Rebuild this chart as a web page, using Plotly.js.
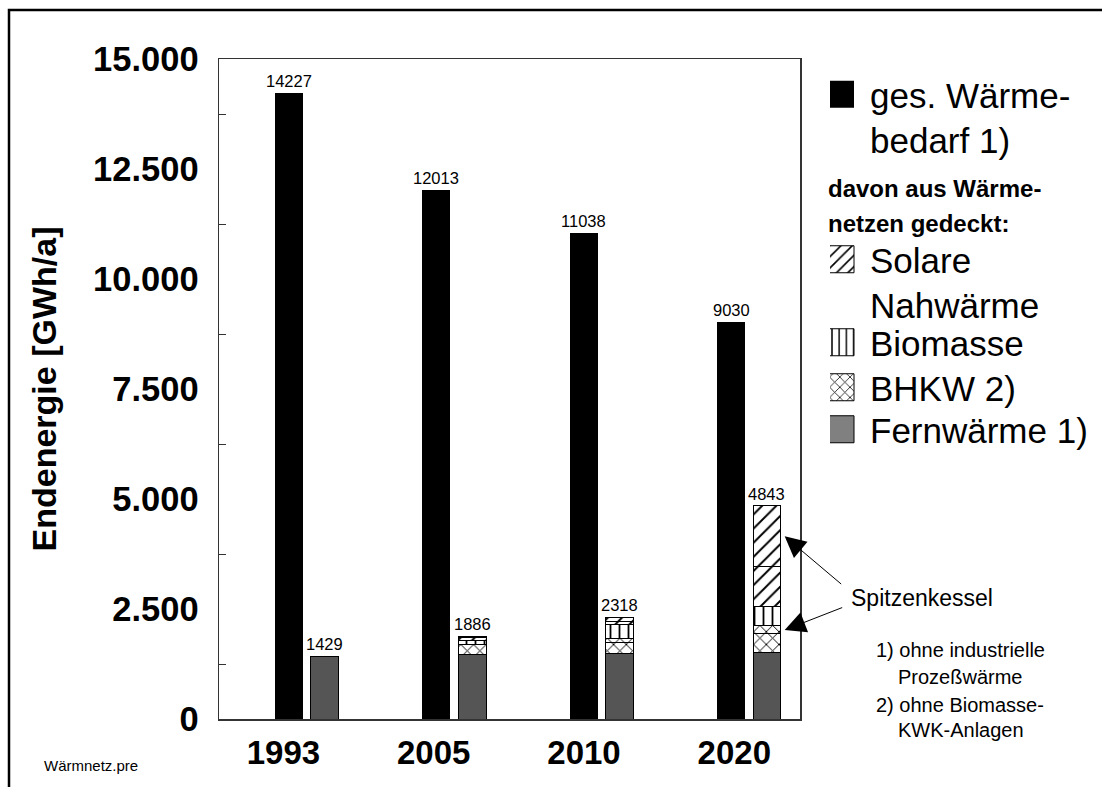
<!DOCTYPE html>
<html><head><meta charset="utf-8">
<script src="https://cdn.plot.ly/plotly-3.0.1.min.js"></script>
<style>body{margin:0;background:#fff}</style>
</head><body><div id="chart" style="width:1102px;height:787px"></div>
<script>
// ---- data ----
const years = ['1993', '2005', '2010', '2020'];
const gesWaermebedarf = [14227, 12013, 11038, 9030];
const fernwaerme = [1429, 1455, 1490, 1507];
const bhkw = [0, 227, 250, 425];
const bhkwSpitzenkessel = [0, 0, 100, 182];
const biomasse = [0, 113, 300, 439];
const solar = [0, 53, 80, 908];
const solarSpitzenkessel = [0, 38, 98, 1382];
const waermenetzGesamt = [1429, 1886, 2318, 4843];
const yTickValues = [0, 2500, 5000, 7500, 10000, 12500, 15000];
const yTickLabels = ['0', '2.500', '5.000', '7.500', '10.000', '12.500', '15.000'];

// ---- layout helpers ----
const FONT = '"Liberation Sans", Arial, Helvetica, sans-serif';
const OFF = 0.122, W = 0.19;
const idx = years.map((_, i) => i);
const xBlack = idx.map(i => i - OFF);
const xNet = idx.map(i => i + OFF);
const L = 219, R = 800, T = 59, B = 719;
const px = x => (x - L) / (R - L);
const py = y => (B - y) / (B - T);
const outline = {color: '#000', width: 1};

function hatched(name, vals, shape, size, legend, showlegend) {
  return {
    type: 'bar', name: name, x: xNet, y: vals, width: W,
    legend: legend, showlegend: showlegend, hoverinfo: 'skip',
    marker: {color: '#fff', line: outline,
      pattern: {shape: shape, size: size, solidity: 0.2, fgcolor: '#000', bgcolor: '#fff', fillmode: 'replace'}}
  };
}

const traces = [
  {type: 'bar', name: 'ges. Wärme-<br>bedarf 1)', x: xBlack, y: gesWaermebedarf, width: W,
   legend: 'legend', marker: {color: '#000', line: {color: '#000', width: 0}}, hoverinfo: 'skip'},
  {type: 'bar', name: 'Fernwärme 1)', x: xNet, y: fernwaerme, width: W, legend: 'legend5',
   marker: {color: '#555555', line: outline}, hoverinfo: 'skip'},
  hatched('BHKW 2)', bhkw, 'x', 9, 'legend4', true),
  hatched('BHKW Spitzenkessel', bhkwSpitzenkessel, 'x', 9, 'legend4', false),
  hatched('Biomasse', biomasse, '|', 9, 'legend3', true),
  hatched('Solare<br>Nahwärme', solar, '/', 10, 'legend2', true),
  hatched('Solar Spitzenkessel', solarSpitzenkessel, '/', 10, 'legend2', false)
];

const minorTicks = [];
for (let v = 1250; v < 15000; v += 2500) minorTicks.push(v);

const annotations = [];
idx.forEach(i => {
  annotations.push({x: xBlack[i], y: gesWaermebedarf[i], xref: 'x', yref: 'y', text: String(gesWaermebedarf[i]),
    showarrow: false, yanchor: 'bottom', yshift: 1, font: {size: 16.5}});
  annotations.push({x: xNet[i], y: waermenetzGesamt[i], xref: 'x', yref: 'y', text: String(waermenetzGesamt[i]),
    showarrow: false, yanchor: 'bottom', yshift: 1, font: {size: 16.5}});
});
// Spitzenkessel arrows
const last = years.length - 1;
const tipX = xNet[last] + W / 2 + 0.025;
const solarTop = fernwaerme[last] + bhkw[last] + bhkwSpitzenkessel[last] + biomasse[last] + solar[last];
const bhkwTop = fernwaerme[last] + bhkw[last];
annotations.push({x: tipX, y: solarTop + solarSpitzenkessel[last] / 2, xref: 'x', yref: 'y', text: '',
  showarrow: true, ax: 58, ay: 49, arrowhead: 2, arrowsize: 4.2, arrowwidth: 1, arrowcolor: '#000', standoff: 0});
annotations.push({x: tipX, y: bhkwTop + bhkwSpitzenkessel[last] / 2, xref: 'x', yref: 'y', text: '',
  showarrow: true, ax: 59, ay: -23, arrowhead: 2, arrowsize: 4.2, arrowwidth: 1, arrowcolor: '#000', standoff: 0});
annotations.push({x: px(849), y: py(598), xref: 'paper', yref: 'paper', text: 'Spitzenkessel',
  showarrow: false, xanchor: 'left', yanchor: 'middle', font: {size: 23}});
// legend heading
annotations.push({x: px(826), y: py(188), xref: 'paper', yref: 'paper', text: '<b>davon aus Wärme-</b>',
  showarrow: false, xanchor: 'left', yanchor: 'middle', font: {size: 24}});
annotations.push({x: px(826), y: py(223), xref: 'paper', yref: 'paper', text: '<b>netzen gedeckt:</b>',
  showarrow: false, xanchor: 'left', yanchor: 'middle', font: {size: 24}});
// footnotes
const notes = [['1) ohne industrielle', 874, 650], ['Prozeßwärme', 896, 677], ['2) ohne Biomasse-', 874, 705], ['KWK-Anlagen', 896, 730]];
notes.forEach(n => annotations.push({x: px(n[1]), y: py(n[2]), xref: 'paper', yref: 'paper', text: n[0],
  showarrow: false, xanchor: 'left', yanchor: 'middle', font: {size: 20}}));
annotations.push({x: px(42), y: py(765), xref: 'paper', yref: 'paper', text: 'Wärmnetz.pre',
  showarrow: false, xanchor: 'left', yanchor: 'middle', font: {size: 15}});

function legendAt(topPx) {
  return {xref: 'container', yref: 'container', xanchor: 'left', yanchor: 'top',
    x: 830 / 1102, y: 1 - topPx / 787,
    font: {size: 35, family: FONT, color: '#000'}, bgcolor: 'rgba(0,0,0,0)', valign: 'top',
    itemclick: false, itemdoubleclick: false, tracegroupgap: 0};
}

const layout = {
  width: 1102, height: 787, autosize: false,
  margin: {l: L, r: 1102 - R, t: T, b: 787 - B, pad: 0},
  paper_bgcolor: '#fff', plot_bgcolor: '#fff',
  barmode: 'stack', showlegend: true,
  font: {family: FONT, color: '#000'},
  xaxis: {range: [-0.597, 3.346], tickvals: idx.map(i => i * 1.02 - 0.16), ticktext: years,
    tickfont: {size: 33, weight: 'bold'}, ticks: '', showline: true, mirror: true,
    linecolor: '#333', linewidth: 1.5, showgrid: false, zeroline: false, ticklabelstandoff: 4, fixedrange: true},
  yaxis: {range: [0, 15000], tickvals: yTickValues, ticktext: yTickLabels,
    tickfont: {size: 34.5, weight: 'bold'}, ticks: '',
    minor: {tickvals: minorTicks, ticks: 'inside', ticklen: 7, tickcolor: '#333', tickwidth: 1, showgrid: false},
    showline: true, mirror: true, linecolor: '#333', linewidth: 1.5, showgrid: false, zeroline: false,
    ticklabelstandoff: 12, fixedrange: true,
    title: {text: 'Endenergie [GWh/a]', font: {size: 34, weight: 'bold'}, standoff: 26}},
  legend: legendAt(65),
  legend2: legendAt(230),
  legend3: legendAt(313),
  legend4: legendAt(358),
  legend5: legendAt(400),
  annotations: annotations,
  shapes: [{type: 'rect', xref: 'paper', yref: 'paper', x0: px(9), x1: px(1120), y0: py(810), y1: py(10),
    line: {color: '#000', width: 2.5}, fillcolor: 'rgba(0,0,0,0)', layer: 'above'}]
};

Plotly.newPlot('chart', traces, layout, {displayModeBar: false, staticPlot: true}).then(gd => {
  // enlarge legend swatches to match the original's big square keys
  gd.querySelectorAll('.legendpoints path').forEach(p => {
    p.setAttribute('d', 'M4,13.5H-23V-13.5H4Z');
    // the original's legend key for Fernwärme is a lighter grey than its bars
    const f = (p.style.fill || '').replace(/\s/g, '');
    if (f === 'rgb(85,85,85)' || f === '#555555') p.style.fill = '#808080';
  });
});
</script></body></html>
